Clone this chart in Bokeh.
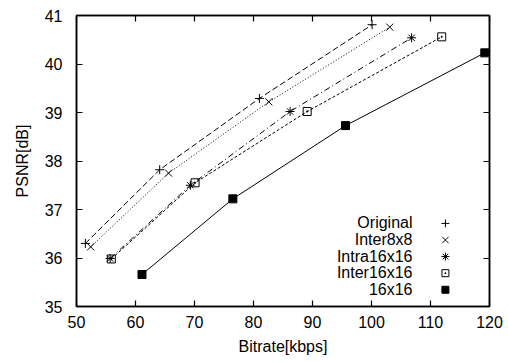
from bokeh.plotting import figure
from bokeh.models import (Range1d, LinearAxis, SingleIntervalTicker, Label,
                          CustomLabelingPolicy)
from bokeh.embed import file_html
from bokeh.resources import INLINE

# ---------------- data ----------------
series_names = ["Original", "Inter8x8", "Intra16x16", "Inter16x16", "16x16"]

bitrate_original = [51.5, 64.1, 81.0, 100.1]
psnr_original = [36.30, 37.82, 39.29, 40.81]

bitrate_inter8x8 = [52.4, 65.6, 82.6, 103.1]
psnr_inter8x8 = [36.23, 37.75, 39.22, 40.76]

bitrate_intra16x16 = [55.7, 69.3, 86.2, 106.8]
psnr_intra16x16 = [35.99, 37.50, 39.02, 40.54]

bitrate_inter16x16 = [55.9, 70.1, 89.1, 111.9]
psnr_inter16x16 = [35.98, 37.55, 39.02, 40.56]

bitrate_16x16 = [61.1, 76.5, 95.6, 119.2]
psnr_16x16 = [35.66, 37.22, 38.73, 40.23]

x_min, x_max, x_step = 50, 120, 10
y_min, y_max, y_step = 35, 41, 1

x_label = "Bitrate[kbps]"
y_label = "PSNR[dB]"

# ---------------- styles ----------------
FONT = "Liberation Sans"
FS = "16px"
styles = [
    dict(dash="6 3", marker="cross", size=9, fill=None),
    dict(dash="1 2", marker="x", size=10, fill=None),
    dict(dash="6 3 1 3", marker="asterisk", size=9, fill=None),
    dict(dash="3 2", marker="square_dot", size=8, fill=None),
    dict(dash="solid", marker="square", size=8, fill="black"),
]

W, H = 508, 362
BL, BR, BT, BB = 76, 17, 13, 56
FW, FH = W - BL - BR, H - BT - BB

p = figure(width=W, height=H, output_backend="svg", toolbar_location=None,
           x_range=Range1d(x_min, x_max), y_range=Range1d(y_min, y_max),
           min_border_left=BL, min_border_right=BR,
           min_border_top=BT, min_border_bottom=BB)
p.grid.visible = False
p.outline_line_color = "black"
p.outline_line_width = 1.5
p.background_fill_color = "white"
p.border_fill_color = "white"
# pixel-space ranges for the gnuplot-style key
p.extra_x_ranges = {"px": Range1d(0, FW)}
p.extra_y_ranges = {"px": Range1d(0, FH)}


def style_axis(ax, interval, labels=True):
    ax.ticker = SingleIntervalTicker(interval=interval)
    ax.major_tick_in = 6
    ax.major_tick_out = 0
    ax.minor_tick_line_color = None
    ax.axis_line_width = 1.5
    ax.major_tick_line_width = 1.2
    ax.axis_line_color = "black"
    ax.major_tick_line_color = "black"
    if labels:
        ax.major_label_text_font = FONT
        ax.major_label_text_font_size = FS
        ax.major_label_text_color = "black"
        ax.axis_label_text_font = FONT
        ax.axis_label_text_font_size = FS
        ax.axis_label_text_font_style = "normal"
        ax.axis_label_text_color = "black"
    else:
        # mirror axis: ticks only, no labels drawn at all
        ax.major_label_policy = CustomLabelingPolicy(
            code="const ids = [...indices]; for (const i of ids) indices.unset(i); return indices")
        ax.major_label_standoff = 0


xa = p.xaxis[0]
ya = p.yaxis[0]
style_axis(xa, x_step)
style_axis(ya, y_step)
xa.axis_label = x_label
ya.axis_label = y_label
xa.major_label_standoff = 5
xa.axis_label_standoff = 7
ya.major_label_standoff = 10
ya.axis_label_standoff = 11

top = LinearAxis()
right = LinearAxis()
style_axis(top, x_step, labels=False)
style_axis(right, y_step, labels=False)
p.add_layout(top, "above")
p.add_layout(right, "right")

xs = [bitrate_original, bitrate_inter8x8, bitrate_intra16x16, bitrate_inter16x16, bitrate_16x16]
ys = [psnr_original, psnr_inter8x8, psnr_intra16x16, psnr_inter16x16, psnr_16x16]

for x, y, st in zip(xs, ys, styles):
    p.line(x, y, line_color="black", line_width=1, line_dash=st["dash"])
    p.scatter(x, y, marker=st["marker"], size=st["size"], line_color="black",
              line_width=1, fill_color=st["fill"])

# key: labels right-aligned on the left, symbols on the right (gnuplot style)
row_h = 16.7
key_bottom = 8.5
sym_x = 370.7
text_right = 336
n = len(series_names)
for i, (name, st) in enumerate(zip(series_names, styles)):
    yc = key_bottom + (n - i - 0.5) * row_h
    p.add_layout(Label(x=text_right, y=yc, x_units="screen", y_units="screen",
                       text=name, text_align="right", text_baseline="middle",
                       text_font=FONT, text_font_size=FS, text_color="black"))
    p.scatter([sym_x], [yc], x_range_name="px", y_range_name="px",
              marker=st["marker"], size=st["size"] - 1, line_color="black",
              line_width=1, fill_color=st["fill"])

open("out.html", "w").write(file_html(p, INLINE))
